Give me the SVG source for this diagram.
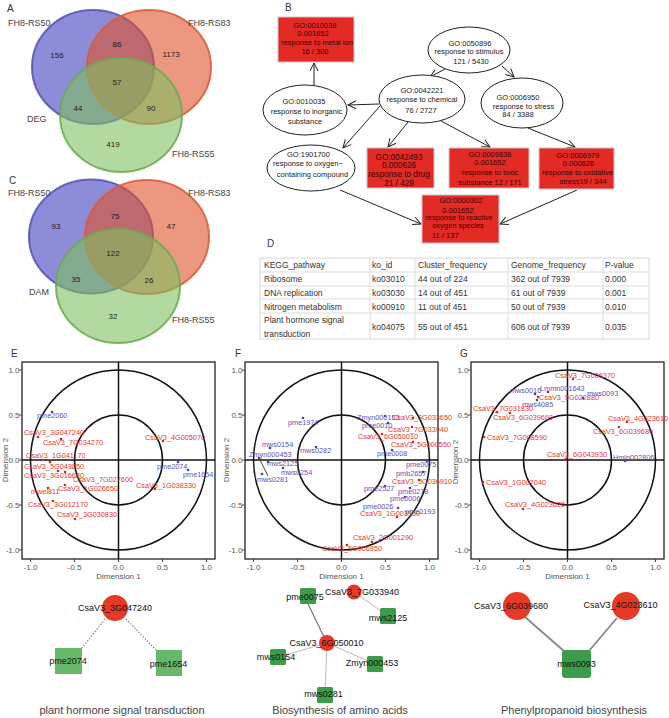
<svg xmlns="http://www.w3.org/2000/svg" width="669" height="718" viewBox="0 0 669 718">
<style>
text{font-family:"Liberation Sans",Arial,sans-serif}
.pl{font-size:10px;fill:#333}
.vl{font-size:9px;fill:#444}
.vn{font-size:8px;fill:#222;text-anchor:middle}
.vb{fill:#3f3fbf;fill-opacity:.6;stroke:#4a48b0;stroke-opacity:.8;stroke-width:2}
.vo{fill:#e0512a;fill-opacity:.6;stroke:#d9583a;stroke-opacity:.85;stroke-width:2}
.vg{fill:#7fbf5f;fill-opacity:.6;stroke:#6aaa50;stroke-opacity:.85;stroke-width:2}
.ell{fill:#fff;stroke:#222;stroke-width:1}
.rb{fill:#e42a24;stroke:#c8c8c8;stroke-width:1}
.go{font-size:7.5px;fill:#222;text-anchor:middle}
.gr{font-size:7.5px;fill:#3a0505;text-anchor:middle}
.gr2{font-size:8.2px;fill:#3a0505;text-anchor:middle}
.arr{stroke:#222;stroke-width:1;fill:none;marker-end:url(#ah)}
.tb{font-size:8.5px;fill:#333}
.tg{stroke:#ddd;stroke-width:1;fill:none}
.box{fill:#fff;stroke:#222;stroke-width:1.3}
.circ{fill:none;stroke:#111;stroke-width:1.5}
.ax{stroke:#111;stroke-width:1.5}
.tk{stroke:#444;stroke-width:1}
.ty{font-size:8px;fill:#555;text-anchor:end}
.tx{font-size:8px;fill:#555;text-anchor:middle}
.at{font-size:8px;fill:#555;text-anchor:middle}
.pr{font-size:7.3px;fill:#e8352e}
.pb{font-size:7.3px;fill:#5e52b8}
.dr{fill:#d0281f}
.db{fill:#4a40a0}
.nl{font-size:9px;fill:#111;text-anchor:middle}
.ttl{font-size:11px;fill:#444;text-anchor:middle}
.red{fill:#e63a26}
.sqE{fill:#66b966}
.sq{fill:#3d9c4a}
.dot{stroke:#888;stroke-width:1.2;stroke-dasharray:1.5 1.5;fill:none}
.lg{stroke:#bbb;stroke-width:1;fill:none}
.dg{stroke:#777;stroke-width:1.2;fill:none}
.sg{stroke:#888;stroke-width:1.8;fill:none}
</style>
<defs>
<marker id="ah" markerWidth="10" markerHeight="10" refX="9" refY="5" orient="auto" markerUnits="userSpaceOnUse"><path d="M1,1 L9,5 L1,9" fill="none" stroke="#222" stroke-width="1"/></marker>
<g id="frame">
<rect x="22" y="362" width="193" height="197" class="box"/>
<ellipse cx="118.5" cy="460" rx="88" ry="90" class="circ"/>
<ellipse cx="118.5" cy="460" rx="44" ry="45" class="circ"/>
<line x1="118.5" y1="362" x2="118.5" y2="559" class="ax"/>
<line x1="22" y1="460" x2="215" y2="460" class="ax"/>
<path class="tk" d="M19,370H22M19,415H22M19,460H22M19,505H22M19,550H22M30.5,559V562M74.5,559V562M118.5,559V562M162.5,559V562M206.5,559V562"/>
</g>
</defs>
<rect width="669" height="718" fill="#fff"/>

<!-- Panel A -->
<g id="venn-A">
<text class="pl" x="7" y="12">A</text>
<ellipse class="vb" cx="93" cy="67" rx="61" ry="57"/>
<ellipse class="vo" cx="149" cy="67" rx="62" ry="57"/>
<ellipse class="vg" cx="121" cy="115" rx="61" ry="57"/>
<text class="vl" x="8" y="26">FH8-RS50</text>
<text class="vl" x="188" y="26">FH8-RS83</text>
<text class="vl" x="27" y="122">DEG</text>
<text class="vl" x="172" y="157">FH8-RS55</text>
<text class="vn" x="57" y="58">156</text>
<text class="vn" x="117" y="47">86</text>
<text class="vn" x="171" y="57">1173</text>
<text class="vn" x="117" y="85">57</text>
<text class="vn" x="78" y="111">44</text>
<text class="vn" x="151" y="111">90</text>
<text class="vn" x="113" y="147">419</text>
</g>

<!-- Panel C -->
<g id="venn-C">
<text class="pl" x="9" y="184">C</text>
<ellipse class="vb" cx="91" cy="236.5" rx="62" ry="57"/>
<ellipse class="vo" cx="147" cy="237" rx="62" ry="57"/>
<ellipse class="vg" cx="118" cy="286" rx="62" ry="57"/>
<text class="vl" x="8" y="196">FH8-RS50</text>
<text class="vl" x="188" y="196">FH8-RS83</text>
<text class="vl" x="29" y="295">DAM</text>
<text class="vl" x="172" y="322.5">FH8-RS55</text>
<text class="vn" x="56" y="229">93</text>
<text class="vn" x="115" y="219">75</text>
<text class="vn" x="171" y="229">47</text>
<text class="vn" x="113" y="256">122</text>
<text class="vn" x="76" y="282">35</text>
<text class="vn" x="149" y="283">26</text>
<text class="vn" x="113" y="319">32</text>
</g>

<!-- Panel B -->
<text class="pl" x="285" y="11">B</text>
<g id="go-connectors">
<line class="arr" x1="445" y1="69" x2="430" y2="77"/>
<line class="arr" x1="502" y1="66" x2="514" y2="77"/>
<line class="arr" x1="379" y1="104" x2="348" y2="105"/>
<line class="arr" x1="380" y1="106" x2="343" y2="148"/>
<line class="arr" x1="314" y1="85" x2="314" y2="63"/>
<line class="arr" x1="408" y1="122" x2="388" y2="147"/>
<line class="arr" x1="441" y1="121" x2="490" y2="147"/>
<line class="arr" x1="528" y1="128" x2="575" y2="147"/>
<line class="arr" x1="340" y1="190" x2="421" y2="224"/>
<line class="arr" x1="577" y1="190" x2="500" y2="224"/>
</g>
<g id="GO0010038">
<rect class="rb" x="278" y="17" width="76" height="45"/>
<text class="gr" x="315" y="27.5">GO:0010038</text>
<text class="gr" x="313" y="35.5">0.001652</text>
<text class="gr" x="317" y="44.5">response to metal ion</text>
<text class="gr" x="315" y="53.7">16 / 300</text>
</g>
<g id="GO0010035">
<ellipse class="ell" cx="305" cy="110" rx="42" ry="25"/>
<text class="go" x="304" y="103.5">GO:0010035</text>
<text class="go" x="306.5" y="113.7">response to inorganic</text>
<text class="go" x="305" y="123.7">substance</text>
</g>
<g id="GO0042221">
<ellipse class="ell" cx="422" cy="99" rx="43" ry="24"/>
<text class="go" x="422" y="93.4">GO:0042221</text>
<text class="go" x="422" y="101.7">response to chemical</text>
<text class="go" x="421" y="112.7">76 / 2727</text>
</g>
<g id="GO0050896">
<ellipse class="ell" cx="469" cy="50" rx="41" ry="23"/>
<text class="go" x="470" y="45.7">GO:0050896</text>
<text class="go" x="469" y="53.7">response to stimulus</text>
<text class="go" x="471" y="63.7">121 / 5430</text>
</g>
<g id="GO0006950">
<ellipse class="ell" cx="522" cy="103" rx="41" ry="25"/>
<text class="go" x="518" y="99.7">GO:0006950</text>
<text class="go" x="523.5" y="108.5">response to stress</text>
<text class="go" x="518" y="117">84 / 3388</text>
</g>
<g id="GO1901700">
<ellipse class="ell" cx="311" cy="168" rx="44" ry="23"/>
<text class="go" x="308.5" y="156.7">GO:1901700</text>
<text class="go" x="308" y="165.7">response to oxygen−</text>
<text class="go" x="312.5" y="176.7">containing compound</text>
</g>
<g id="GO0042493">
<rect class="rb" x="367" y="148" width="67" height="40"/>
<text class="gr2" x="399" y="159.7">GO:0042493</text>
<text class="gr2" x="399" y="167.7">0.000626</text>
<text class="gr2" x="399" y="176.7">response to drug</text>
<text class="gr2" x="399" y="186">21 / 429</text>
</g>
<g id="GO0009636">
<rect class="rb" x="449" y="148" width="80" height="40"/>
<text class="gr" x="490" y="156.7">GO:0009636</text>
<text class="gr" x="490" y="164.7">0.001652</text>
<text class="gr" x="490" y="174.7">response to toxic</text>
<text class="gr" x="490" y="184.7">substance 12 / 171</text>
</g>
<g id="GO0006979">
<rect class="rb" x="539" y="148" width="75" height="41"/>
<text class="gr" x="578" y="157.7">GO:0006979</text>
<text class="gr" x="578.5" y="165.7">0.000626</text>
<text class="gr" x="577.5" y="174.7">response to oxidative</text>
<text class="gr" x="583" y="183.7">stress19 / 344</text>
</g>
<g id="GO0000302">
<rect class="rb" x="422" y="195" width="77" height="48"/>
<text class="gr" x="461" y="203.4">GO:0000302</text>
<text class="gr" x="458" y="212.7">0.001652</text>
<text class="gr" x="459" y="220">response to reactive</text>
<text class="gr" x="458" y="227.7">oxygen species</text>
<text class="gr" x="432" y="238.4" style="text-anchor:start">11 / 137</text>
</g>

<!-- Panel D -->
<g id="table-D">
<text class="pl" x="267" y="247">D</text>
<rect x="260" y="258" width="389" height="81" fill="#fff" stroke="#d8d8d8"/>
<path class="tg" d="M260,272H649M260,286H649M260,299H649M260,313H649M370,258V339M415,258V339M508,258V339M603,258V339"/>
<text class="tb" x="264" y="268">KEGG_pathway</text>
<text class="tb" x="372" y="268">ko_id</text>
<text class="tb" x="418" y="268">Cluster_frequency</text>
<text class="tb" x="511" y="268">Genome_frequency</text>
<text class="tb" x="605" y="268">P-value</text>
<text class="tb" x="264" y="282">Ribosome</text>
<text class="tb" x="372" y="282">ko03010</text>
<text class="tb" x="418" y="282">44 out of 224</text>
<text class="tb" x="511" y="282">362 out of 7939</text>
<text class="tb" x="605" y="282">0.000</text>
<text class="tb" x="264" y="296">DNA replication</text>
<text class="tb" x="372" y="296">ko03030</text>
<text class="tb" x="418" y="296">14 out of 451</text>
<text class="tb" x="511" y="296">61 out of 7939</text>
<text class="tb" x="605" y="296">0.001</text>
<text class="tb" x="264" y="310">Nitrogen metabolism</text>
<text class="tb" x="372" y="310">ko00910</text>
<text class="tb" x="418" y="310">11 out of 451</text>
<text class="tb" x="511" y="310">50 out of 7939</text>
<text class="tb" x="605" y="310">0.010</text>
<text class="tb" x="264" y="323">Plant hormone signal</text>
<text class="tb" x="264" y="337">transduction</text>
<text class="tb" x="372" y="330">ko04075</text>
<text class="tb" x="418" y="330">55 out of 451</text>
<text class="tb" x="511" y="330">606 out of 7939</text>
<text class="tb" x="605" y="330">0.035</text>
</g>

<!-- Panel E plot -->
<g id="plot-E">
<text class="pl" x="11" y="357">E</text>
<use href="#frame"/>
<text class="ty" x="19.5" y="373">1.0</text><text class="ty" x="19.5" y="418">0.5</text><text class="ty" x="19.5" y="463">0.0</text><text class="ty" x="19.5" y="508">-0.5</text><text class="ty" x="19.5" y="553">-1.0</text>
<text class="tx" x="30.5" y="570">-1.0</text><text class="tx" x="74.5" y="570">-0.5</text><text class="tx" x="118.5" y="570">0.0</text><text class="tx" x="162.5" y="570">0.5</text><text class="tx" x="206.5" y="570">1.0</text>
<text class="at" x="118.5" y="579">Dimension 1</text>
<text class="at" x="8" y="460" transform="rotate(-90 8 460)">Dimension 2</text>
<circle class="db" cx="52" cy="412" r="1.3"/><text class="pb" x="37" y="418">pme2060</text>
<circle class="dr" cx="38" cy="437" r="1.3"/><text class="pr" x="24" y="435">CsaV3_3G047240</text>
<circle class="dr" cx="61" cy="439" r="1.3"/><text class="pr" x="43" y="445">CsaV3_7G034270</text>
<circle class="dr" cx="163" cy="441" r="1.3"/><text class="pr" x="145" y="440">CsaV3_4G005070</text>
<circle class="dr" cx="43" cy="460" r="1.3"/><text class="pr" x="26" y="458">CsaV3_1G041170</text>
<circle class="dr" cx="50" cy="462" r="1.3"/><text class="pr" x="24" y="469">CsaV3_5G043050</text>
<circle class="dr" cx="58" cy="471" r="1.3"/><text class="pr" x="24" y="478">CsaV3_3G016680</text>
<circle class="dr" cx="65" cy="472" r="1.3"/><text class="pr" x="73" y="482">CsaV3_7G027600</text>
<circle class="dr" cx="48" cy="488" r="1.3"/><text class="pr" x="31" y="494">mwel811</text>
<circle class="dr" cx="65" cy="485" r="1.3"/><text class="pr" x="58" y="491">CsaV3_1G026650</text>
<circle class="dr" cx="155" cy="489" r="1.3"/><text class="pr" x="136" y="488">CsaV3_1G038330</text>
<circle class="db" cx="178" cy="462" r="1.3"/><text class="pb" x="157" y="469">pme2074</text>
<circle class="db" cx="188" cy="470" r="1.3"/><text class="pb" x="183" y="477">pme1654</text>
<circle class="dr" cx="53" cy="501" r="1.3"/><text class="pr" x="28" y="507">CsaV3_3G012170</text>
<circle class="dr" cx="75" cy="519" r="1.3"/><text class="pr" x="57" y="517">CsaV3_3G030830</text>
</g>

<!-- Panel F plot -->
<g id="plot-F">
<text class="pl" x="235" y="357">F</text>
<use href="#frame" transform="translate(223,0)"/>
<text class="ty" x="242.5" y="373">1.0</text><text class="ty" x="242.5" y="418">0.5</text><text class="ty" x="242.5" y="463">0.0</text><text class="ty" x="242.5" y="508">-0.5</text><text class="ty" x="242.5" y="553">-1.0</text>
<text class="tx" x="253.5" y="570">-1.0</text><text class="tx" x="297.5" y="570">-0.5</text><text class="tx" x="341.5" y="570">0.0</text><text class="tx" x="385.5" y="570">0.5</text><text class="tx" x="429.5" y="570">1.0</text>
<text class="at" x="341.5" y="579">Dimension 1</text>
<text class="at" x="229" y="460" transform="rotate(-90 229 460)">Dimension 2</text>
<line x1="259" y1="458" x2="268" y2="476" stroke="#333" stroke-width="0.9"/>
<circle class="db" cx="303" cy="418" r="1.3"/><text class="pb" x="288" y="425">pme1974</text>
<circle class="db" cx="270" cy="448" r="1.3"/><text class="pb" x="262" y="447">mws0154</text>
<circle class="db" cx="259" cy="458" r="1.3"/><text class="pb" x="249" y="457">Zmyn000453</text>
<circle class="db" cx="316" cy="447" r="1.3"/><text class="pb" x="300" y="453">mws0282</text>
<circle class="db" cx="268" cy="462" r="1.3"/><text class="pb" x="267" y="466">mws2125</text>
<circle class="db" cx="283" cy="468" r="1.3"/><text class="pb" x="281" y="475">mws0254</text>
<circle class="db" cx="262" cy="474" r="1.3"/><text class="pb" x="257" y="482">mws0281</text>
<circle class="db" cx="385" cy="416" r="1.3"/><text class="pb" x="357" y="420">Zmyn000153</text>
<circle class="dr" cx="413" cy="418" r="1.3"/><text class="pr" x="392" y="420">CsaV3_3G033650</text>
<circle class="db" cx="388" cy="423" r="1.3"/><text class="pb" x="362" y="428">pme0010</text>
<circle class="dr" cx="412" cy="427" r="1.3"/><text class="pr" x="388" y="432">CsaV3_7G033940</text>
<circle class="dr" cx="382" cy="434" r="1.3"/><text class="pr" x="358" y="439">CsaV3_6G050010</text>
<circle class="dr" cx="413" cy="442" r="1.3"/><text class="pr" x="391" y="447">CsaV3_5G000550</text>
<circle class="db" cx="392" cy="450" r="1.3"/><text class="pb" x="377" y="456">pme0008</text>
<circle class="db" cx="427" cy="461" r="1.3"/><text class="pb" x="406" y="467">pme0075</text>
<circle class="db" cx="423" cy="472" r="1.3"/><text class="pb" x="396" y="476">pmb2657</text>
<circle class="dr" cx="419" cy="480" r="1.3"/><text class="pr" x="392" y="484">CsaV3_3G036910</text>
<circle class="db" cx="385" cy="486" r="1.3"/><text class="pb" x="364" y="491">pme2527</text>
<circle class="db" cx="410" cy="488" r="1.3"/><text class="pb" x="398" y="494">pme0278</text>
<circle class="db" cx="405" cy="497" r="1.3"/><text class="pb" x="390" y="501">pme0006</text>
<circle class="db" cx="398" cy="508" r="1.3"/><text class="pb" x="363" y="509">pme0026</text>
<circle class="dr" cx="397" cy="517" r="1.3"/><text class="pr" x="360" y="516">CsaV3_1G003950</text>
<text class="pb" x="405" y="514">pme0193</text>
<circle class="dr" cx="372" cy="542" r="1.3"/><text class="pr" x="353" y="540">CsaV3_2G001290</text>
<circle class="dr" cx="347" cy="545" r="1.3"/><text class="pr" x="322" y="551">CsaV3_5G006950</text>
</g>

<!-- Panel G plot -->
<g id="plot-G">
<text class="pl" x="460" y="357">G</text>
<use href="#frame" transform="translate(449,0)"/>
<text class="ty" x="468.5" y="373">1.0</text><text class="ty" x="468.5" y="418">0.5</text><text class="ty" x="468.5" y="463">0.0</text><text class="ty" x="468.5" y="508">-0.5</text><text class="ty" x="468.5" y="553">-1.0</text>
<text class="tx" x="479.5" y="570">-1.0</text><text class="tx" x="523.5" y="570">-0.5</text><text class="tx" x="567.5" y="570">0.0</text><text class="tx" x="611.5" y="570">0.5</text><text class="tx" x="655.5" y="570">1.0</text>
<text class="at" x="567.5" y="579">Dimension 1</text>
<text class="at" x="458" y="462" transform="rotate(-90 458 462)">Dimension 2</text>
<circle class="dr" cx="573" cy="379" r="1.3"/><text class="pr" x="555" y="378">CsaV3_7G006370</text>
<circle class="db" cx="535" cy="394" r="1.3"/><text class="pb" x="510" y="393">mws0016</text>
<circle class="db" cx="548" cy="392" r="1.3"/><text class="pb" x="540" y="391">Lmmn001643</text>
<circle class="dr" cx="538" cy="397" r="1.3"/><text class="pr" x="539" y="400">CsaV3_5G022880</text>
<circle class="db" cx="583" cy="398" r="1.3"/><text class="pb" x="587" y="396">mws0093</text>
<circle class="db" cx="537" cy="400" r="1.3"/><text class="pb" x="522" y="407">mws4085</text>
<circle class="dr" cx="497" cy="412" r="1.3"/><text class="pr" x="473" y="411">CsaV3_7G031830</text>
<circle class="dr" cx="510" cy="413" r="1.3"/><text class="pr" x="493" y="420">CsaV3_6G039660</text>
<circle class="dr" cx="627" cy="422" r="1.3"/><text class="pr" x="608" y="421">CsaV3_4G023610</text>
<circle class="dr" cx="619" cy="427" r="1.3"/><text class="pr" x="593" y="434">CsaV3_6G039680</text>
<circle class="dr" cx="484" cy="437" r="1.3"/><text class="pr" x="487" y="440">CsaV3_7G008590</text>
<circle class="dr" cx="566" cy="459" r="1.3"/><text class="pr" x="547" y="457">CsaV3_6G043930</text>
<circle class="db" cx="625" cy="461" r="1.3"/><text class="pb" x="613" y="460">Hmln002806</text>
<circle class="dr" cx="483" cy="482" r="1.3"/><text class="pr" x="486" y="485">CsaV3_1G007040</text>
<circle class="dr" cx="523" cy="509" r="1.3"/><text class="pr" x="505" y="507">CsaV3_4G023620</text>
</g>

<!-- Networks connectors -->
<g id="network-connectors">
<line class="dot" x1="105" y1="619" x2="82" y2="648"/>
<line class="dot" x1="126" y1="619" x2="156" y2="650"/>
<line class="dg" x1="308" y1="604" x2="327" y2="643"/>
<line class="lg" x1="354" y1="592" x2="388" y2="616"/>
<line class="lg" x1="327" y1="643" x2="278" y2="657"/>
<line class="lg" x1="327" y1="643" x2="375" y2="664"/>
<line class="lg" x1="327" y1="643" x2="325" y2="695"/>
<line class="sg" x1="525" y1="617" x2="565" y2="652"/>
<line class="sg" x1="617" y1="618" x2="588" y2="652"/>
</g>

<!-- Network E -->
<g id="n-CsaV3_3G047240"><circle class="red" cx="115" cy="608" r="13"/><text class="nl" x="115" y="611">CsaV3_3G047240</text></g>
<g id="n-pme2074"><rect class="sqE" x="55" y="648" width="27" height="26"/><text class="nl" x="68" y="664">pme2074</text></g>
<g id="n-pme1654"><rect class="sqE" x="156" y="650" width="26" height="26"/><text class="nl" x="168.5" y="666.5">pme1654</text></g>
<text class="ttl" x="122" y="714">plant hormone signal transduction</text>

<!-- Network F -->
<g id="n-pme0075"><rect class="sq" x="300" y="588" width="16" height="16" rx="1.5"/><text class="nl" x="305" y="600">pme0075</text></g>
<g id="n-CsaV3_7G033940"><circle class="red" cx="354" cy="592" r="7.5"/><text class="nl" x="362" y="594.5">CsaV3_7G033940</text></g>
<g id="n-mws2125"><rect class="sq" x="380" y="608" width="16" height="16" rx="1.5"/><text class="nl" x="388" y="621">mws2125</text></g>
<g id="n-CsaV3_6G050010"><circle class="red" cx="327" cy="643" r="8"/><text class="nl" x="326.5" y="646">CsaV3_6G050010</text></g>
<g id="n-mws0154"><rect class="sq" x="270" y="649" width="16" height="16" rx="1.5"/><text class="nl" x="276" y="660">mws0154</text></g>
<g id="n-Zmyn000453"><rect class="sq" x="367" y="656" width="16" height="16" rx="1.5"/><text class="nl" x="372" y="666">Zmyn000453</text></g>
<g id="n-mws0281"><rect class="sq" x="317" y="687" width="16" height="16" rx="1.5"/><text class="nl" x="323.5" y="697">mws0281</text></g>
<text class="ttl" x="340" y="714">Biosynthesis of amino acids</text>

<!-- Network G -->
<g id="n-CsaV3_6G039680"><circle class="red" cx="517" cy="606" r="14"/><text class="nl" x="511" y="609">CsaV3_6G039680</text></g>
<g id="n-CsaV3_4G023610"><circle class="red" cx="626" cy="606" r="14"/><text class="nl" x="620.5" y="608">CsaV3_4G023610</text></g>
<g id="n-mws0093"><rect class="sq" x="562" y="650" width="29" height="28" rx="3"/><text class="nl" x="576.5" y="667">mws0093</text></g>
<text class="ttl" x="574" y="714">Phenylpropanoid biosynthesis</text>
</svg>
